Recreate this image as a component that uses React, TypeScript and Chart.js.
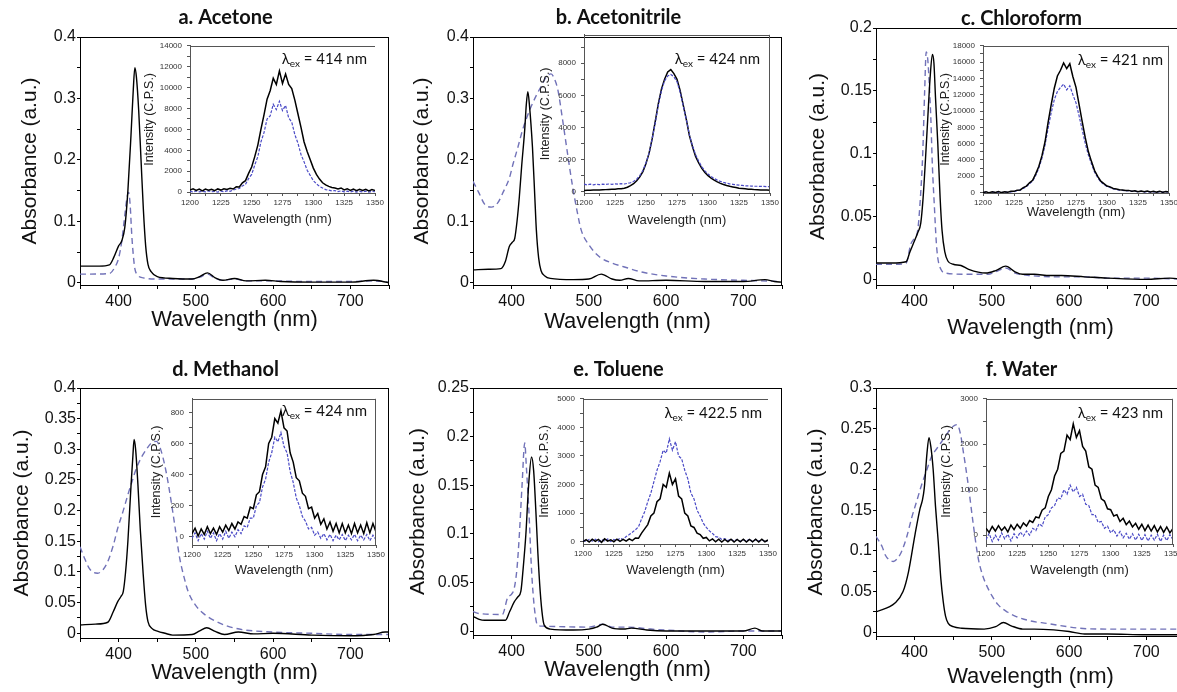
import React, { useEffect, useRef } from 'react';
import { Chart, registerables } from 'chart.js';

Chart.register(...registerables);

// ---------------- data ----------------
const panelTitles = ['a. Acetone', 'b. Acetonitrile', 'c. Chloroform', 'd. Methanol', 'e. Toluene', 'f. Water'];
const excitationNm = ['414', '424', '421', '424', '422.5', '423'];

const mainXTicks = [400, 500, 600, 700];
const aYTicks = [0, 0.1, 0.2, 0.3, 0.4];
const bYTicks = [0, 0.1, 0.2, 0.3, 0.4];
const cYTicks = [0, 0.05, 0.1, 0.15, 0.2];
const dYTicks = [0, 0.05, 0.1, 0.15, 0.2, 0.25, 0.3, 0.35, 0.4];
const eYTicks = [0, 0.05, 0.1, 0.15, 0.2, 0.25];
const fYTicks = [0, 0.05, 0.1, 0.15, 0.2, 0.25, 0.3];

const insetXTicks = [1200, 1225, 1250, 1275, 1300, 1325, 1350];
const aInYTicks = [0, 2000, 4000, 6000, 8000, 10000, 12000, 14000];
const bInYTicks = [0, 2000, 4000, 6000, 8000];
const cInYTicks = [0, 2000, 4000, 6000, 8000, 10000, 12000, 14000, 16000, 18000];
const dInYTicks = [0, 200, 400, 600, 800];
const eInYTicks = [0, 1000, 2000, 3000, 4000, 5000];
const fInYTicks = [0, 1000, 2000, 3000];

// absorbance spectra (solid = black, dash = blue dashed)
const aSolidWl = [350, 375, 388, 394, 400, 404, 408, 412, 416, 419, 421, 423, 426, 429, 432, 435, 438, 442, 450, 470, 495, 505, 515, 525, 535, 550, 565, 590, 610, 650, 700, 730, 750];
const aSolidAbs = [0.027, 0.027, 0.029, 0.042, 0.060, 0.068, 0.090, 0.150, 0.240, 0.315, 0.350, 0.335, 0.280, 0.200, 0.120, 0.060, 0.030, 0.018, 0.010, 0.007, 0.006, 0.010, 0.016, 0.008, 0.004, 0.007, 0.003, 0.004, 0.002, 0.001, 0.001, 0.004, 0.000];
const aDashWl = [350, 388, 395, 400, 404, 408, 411, 413, 415, 417, 419, 421, 425, 432, 450, 495, 505, 515, 525, 535, 550, 565, 590, 650, 700, 730, 750];
const aDashAbs = [0.014, 0.015, 0.025, 0.040, 0.067, 0.110, 0.140, 0.147, 0.125, 0.078, 0.045, 0.023, 0.012, 0.008, 0.006, 0.006, 0.009, 0.014, 0.007, 0.004, 0.006, 0.003, 0.003, 0.002, 0.002, 0.003, 0.001];

const bSolidWl = [350, 370, 386, 392, 397, 401, 404, 407, 410, 413, 417, 419, 421, 423, 427, 430, 432, 435, 438, 443, 450, 480, 500, 516, 530, 540, 551, 565, 600, 650, 700, 728, 740, 750];
const bSolidAbs = [0.021, 0.022, 0.023, 0.035, 0.059, 0.066, 0.072, 0.100, 0.140, 0.190, 0.250, 0.290, 0.311, 0.290, 0.220, 0.140, 0.086, 0.040, 0.020, 0.011, 0.007, 0.005, 0.006, 0.014, 0.006, 0.004, 0.007, 0.003, 0.004, 0.002, 0.002, 0.005, 0.002, 0.001];
const bDashWl = [350, 357, 365, 374, 382, 390, 397, 402, 408, 414, 420, 425, 432, 438, 445, 451, 456, 460, 466, 473, 479, 485, 490, 501, 514, 530, 545, 570, 600, 650, 700, 750];
const bDashAbs = [0.165, 0.148, 0.128, 0.123, 0.130, 0.150, 0.170, 0.194, 0.220, 0.248, 0.270, 0.286, 0.305, 0.319, 0.335, 0.340, 0.330, 0.313, 0.265, 0.205, 0.156, 0.115, 0.086, 0.060, 0.042, 0.032, 0.026, 0.017, 0.011, 0.006, 0.004, 0.002];

const cSolidWl = [350, 370, 389, 394, 398, 404, 408, 411, 414, 417, 420, 423, 425, 427, 430, 433, 435.5, 439, 443, 450, 460, 470, 492, 505, 518, 530, 540, 555, 575, 590, 620, 650, 700, 730, 750];
const cSolidAbs = [0.013, 0.013, 0.014, 0.022, 0.028, 0.037, 0.045, 0.065, 0.095, 0.128, 0.160, 0.179, 0.172, 0.145, 0.108, 0.065, 0.039, 0.022, 0.0146, 0.012, 0.011, 0.008, 0.005, 0.007, 0.0105, 0.006, 0.004, 0.004, 0.003, 0.003, 0.002, 0.001, 0.000, 0.001, 0.000];
const cDashWl = [350, 375, 389, 395, 400, 404, 408, 410.5, 413, 415, 417, 419, 421, 423, 425.5, 428, 430, 434, 440, 470, 495, 505, 518, 530, 550, 580, 620, 650, 700, 750];
const cDashAbs = [0.012, 0.012, 0.013, 0.028, 0.033, 0.039, 0.070, 0.100, 0.150, 0.181, 0.175, 0.155, 0.128, 0.090, 0.059, 0.030, 0.017, 0.008, 0.005, 0.004, 0.004, 0.006, 0.009, 0.005, 0.003, 0.002, 0.002, 0.001, 0.001, 0.000];

const dSolidWl = [350, 370, 386, 393, 399, 403, 406, 409, 412, 416, 418.5, 420, 422, 425, 428, 431.6, 435, 438, 443, 451, 460, 470, 495, 505, 514, 525, 537, 555, 575, 600, 650, 700, 730, 745, 750];
const dSolidAbs = [0.0136, 0.015, 0.018, 0.035, 0.052, 0.060, 0.068, 0.100, 0.150, 0.240, 0.290, 0.316, 0.300, 0.242, 0.170, 0.100, 0.045, 0.019, 0.008, 0.003, 0.000, -0.003, -0.002, 0.004, 0.009, 0.003, -0.002, 0.002, -0.001, 0.000, -0.003, -0.004, -0.002, 0.002, 0.002];
const dDashWl = [350, 356, 362, 368, 373, 380, 386, 393, 399, 406, 412, 418, 423, 430, 436, 442, 449, 453, 457.5, 462, 466, 472.6, 479, 485, 490, 500, 510, 525, 540, 560, 600, 650, 700, 750];
const dDashAbs = [0.141, 0.122, 0.106, 0.099, 0.098, 0.104, 0.117, 0.143, 0.172, 0.200, 0.226, 0.250, 0.269, 0.288, 0.300, 0.310, 0.313, 0.305, 0.286, 0.260, 0.231, 0.177, 0.123, 0.090, 0.068, 0.045, 0.032, 0.020, 0.012, 0.006, 0.002, 0.000, -0.002, -0.002];

const eSolidWl = [350, 358, 365, 392, 397.5, 403.4, 408, 412, 415, 418.4, 422, 425.8, 428.5, 431.4, 434, 437, 440, 442.2, 450, 480, 500, 510, 518, 530, 545, 555, 575, 600, 650, 700, 715, 725, 750];
const eSolidAbs = [0.015, 0.012, 0.011, 0.011, 0.020, 0.030, 0.035, 0.041, 0.065, 0.099, 0.150, 0.179, 0.165, 0.123, 0.080, 0.0405, 0.015, 0.006, 0.002, 0.001, 0.002, 0.004, 0.007, 0.003, 0.002, 0.003, 0.001, 0.000, 0.000, 0.000, 0.003, 0.000, 0.000];
const eDashWl = [350, 358, 388, 394.7, 400, 403.4, 407, 410, 413.5, 417, 419, 422.8, 425, 427, 430, 433.5, 440, 500, 518, 530, 550, 580, 600, 650, 700, 750];
const eDashAbs = [0.020, 0.018, 0.017, 0.034, 0.038, 0.044, 0.065, 0.099, 0.150, 0.1935, 0.170, 0.116, 0.075, 0.047, 0.020, 0.006, 0.005, 0.004, 0.007, 0.004, 0.004, 0.002, 0.001, -0.001, 0.000, 0.000];

const fSolidWl = [350, 374.6, 385, 392, 400.5, 407, 410, 412.5, 416, 418.6, 421, 424, 427, 430.6, 434, 437, 440, 443.5, 450, 461, 490, 505, 515, 525, 540, 555, 580, 600, 620, 650, 700, 750];
const fSolidAbs = [0.025, 0.036, 0.050, 0.074, 0.120, 0.152, 0.162, 0.177, 0.220, 0.239, 0.228, 0.200, 0.155, 0.111, 0.065, 0.038, 0.020, 0.011, 0.007, 0.005, 0.004, 0.007, 0.012, 0.008, 0.004, 0.004, 0.003, 0.001, -0.002, -0.002, -0.003, -0.003];
const fDashWl = [350, 358, 362, 367, 372.4, 378, 383, 390, 396, 403, 409, 416, 422, 429, 435, 442, 450, 455, 459, 463, 469.4, 476, 482.3, 488, 493, 500, 508, 520, 530, 550, 571, 614, 650, 700, 750];
const fDashAbs = [0.118, 0.105, 0.095, 0.089, 0.087, 0.091, 0.099, 0.118, 0.140, 0.162, 0.181, 0.200, 0.216, 0.226, 0.234, 0.244, 0.253, 0.255, 0.245, 0.222, 0.181, 0.132, 0.091, 0.070, 0.058, 0.045, 0.034, 0.025, 0.020, 0.014, 0.011, 0.005, 0.004, 0.004, 0.004];

// NIR emission (insets), common wavelength grid
const insetWl = [1200, 1202.5, 1205, 1207.5, 1210, 1212.5, 1215, 1217.5, 1220, 1222.5, 1225, 1227.5, 1230, 1232.5, 1235, 1237.5, 1240, 1242.5, 1245, 1247.5, 1250, 1252.5, 1255, 1257.5, 1260, 1262.5, 1265, 1267.5, 1270, 1272.5, 1275, 1277.5, 1280, 1282.5, 1285, 1287.5, 1290, 1292.5, 1295, 1297.5, 1300, 1302.5, 1305, 1307.5, 1310, 1312.5, 1315, 1317.5, 1320, 1322.5, 1325, 1327.5, 1330, 1332.5, 1335, 1337.5, 1340, 1342.5, 1345, 1347.5, 1350];

const aInBlack = [200, 320, 160, 290, 120, 300, 180, 280, 150, 310, 200, 330, 250, 380, 300, 520, 500, 900, 1100, 1800, 2400, 3400, 4500, 6000, 7400, 8900, 9700, 10900, 10300, 11600, 10400, 11300, 10300, 9900, 8800, 7500, 6200, 4800, 3900, 3100, 2300, 1700, 1250, 900, 700, 550, 450, 400, 300, 400, 220, 330, 170, 300, 140, 280, 160, 270, 120, 240, 150];
const aInBlue = [80, 10, 110, 30, 90, 20, 120, 40, 70, 10, 100, 50, 130, 80, 200, 300, 350, 600, 750, 1300, 1700, 2600, 3400, 4800, 5700, 7000, 7300, 8400, 7900, 8700, 7800, 8300, 7100, 6700, 5500, 4700, 3600, 2900, 2100, 1600, 1100, 800, 550, 400, 250, 200, 120, 150, 60, 120, 30, 100, 20, 90, 10, 80, 30, 100, 10, 70, 40];

const bInBlack = [80, 90, 90, 100, 110, 110, 120, 130, 140, 150, 160, 180, 190, 220, 280, 380, 500, 680, 920, 1250, 1750, 2400, 3300, 4400, 5500, 6400, 7000, 7450, 7600, 7350, 7000, 6300, 5400, 4500, 3500, 2800, 2200, 1800, 1450, 1200, 1000, 850, 720, 610, 520, 450, 390, 340, 300, 260, 220, 200, 180, 160, 150, 130, 120, 110, 100, 100, 90];
const bInBlue = [480, 420, 470, 430, 460, 440, 470, 450, 480, 460, 490, 470, 500, 480, 520, 560, 640, 780, 1000, 1320, 1800, 2400, 3300, 4300, 5400, 6300, 6900, 7200, 7300, 7150, 6850, 6200, 5350, 4500, 3550, 2850, 2300, 1900, 1550, 1300, 1100, 950, 820, 720, 640, 580, 530, 490, 460, 430, 410, 390, 370, 360, 350, 340, 340, 330, 330, 320, 320];

const cInBlack = [0, 110, -30, 90, 20, 120, 0, 100, 50, 150, 150, 300, 330, 600, 800, 1200, 1500, 2300, 3200, 4500, 6200, 8600, 10800, 12800, 14300, 15000, 15900, 15200, 15800, 14200, 12900, 10800, 8700, 6700, 5000, 3800, 2700, 2000, 1400, 1100, 800, 700, 500, 450, 350, 330, 250, 270, 180, 220, 120, 200, 100, 180, 80, 160, 60, 150, 50, 140, 80];
const cInBlue = [0, 60, -20, 50, 10, 80, 0, 60, 20, 90, 120, 250, 300, 520, 720, 1100, 1400, 2100, 3000, 4200, 5800, 7900, 9800, 11400, 12400, 12900, 13300, 12600, 13100, 12000, 11000, 9400, 7700, 6000, 4600, 3500, 2500, 1850, 1300, 1000, 750, 620, 450, 400, 300, 280, 200, 230, 140, 180, 90, 160, 70, 140, 50, 120, 30, 110, 20, 100, 40];

const dInBlack = [20, 55, 5, 50, 15, 65, 20, 55, 15, 65, 30, 75, 40, 85, 50, 95, 80, 130, 120, 190, 180, 270, 290, 400, 450, 600, 640, 760, 730, 810, 700, 680, 540, 480, 380, 360, 280, 260, 180, 190, 120, 150, 80, 115, 50, 95, 35, 85, 25, 85, 25, 75, 20, 85, 25, 75, 20, 90, 25, 85, 30];
const dInBlue = [-10, 25, -25, 20, -15, 35, -10, 25, -25, 20, -15, 35, -10, 30, 0, 45, 20, 70, 60, 120, 120, 200, 220, 320, 370, 480, 540, 640, 610, 670, 580, 540, 420, 350, 250, 200, 130, 100, 50, 60, 10, 30, -10, 20, -20, 15, -25, 10, -20, 15, -25, 10, -20, 15, -25, 10, -20, 15, -25, 10, -20];

const eInBlack = [0, 70, -10, 90, 10, 80, -20, 100, 20, 70, 0, 90, 10, 80, 20, 100, 40, 130, 120, 300, 450, 600, 900, 1000, 1400, 1500, 2000, 1900, 2400, 2000, 2200, 1600, 1500, 1000, 900, 550, 500, 300, 250, 120, 150, 30, 100, 0, 90, -10, 80, 0, 90, -10, 80, 0, 90, -10, 80, 0, 90, -10, 90, 0, 60];
const eInBlue = [50, 0, 80, 20, 90, 0, 70, 30, 100, 10, 80, 40, 120, 80, 180, 250, 330, 420, 520, 800, 1050, 1400, 1700, 2100, 2500, 2800, 3200, 3100, 3600, 3200, 3500, 3000, 2900, 2500, 2200, 1700, 1500, 1100, 900, 650, 500, 380, 290, 180, 160, 80, 110, 40, 90, 20, 80, 10, 70, 20, 90, 0, 80, 20, 70, 10, 50];

const fInBlack = [150, 60, 190, 90, 210, 100, 180, 70, 220, 120, 240, 150, 270, 200, 320, 280, 400, 380, 550, 600, 850, 1000, 1300, 1450, 1800, 1850, 2200, 2100, 2450, 2150, 2300, 1950, 1850, 1500, 1450, 1100, 1050, 800, 750, 580, 560, 420, 450, 300, 370, 230, 310, 180, 260, 130, 240, 100, 220, 90, 210, 70, 190, 60, 180, 50, 150];
const fInBlue = [-100, 40, -140, 0, -110, 50, -80, 20, -130, 30, -60, 70, -20, 90, 0, 150, 100, 250, 200, 400, 450, 600, 650, 820, 800, 1000, 900, 1100, 950, 1050, 850, 900, 680, 650, 450, 450, 280, 300, 150, 200, 50, 120, -20, 80, -60, 40, -90, 30, -110, 20, -120, 10, -130, 0, -110, 20, -140, 0, -120, 10, -100];

// ---------------- panel assembly ----------------
const panels = [
  { solidWl: aSolidWl, solidAbs: aSolidAbs, dashWl: aDashWl, dashAbs: aDashAbs, yTicks: aYTicks, inBlack: aInBlack, inBlue: aInBlue, inYTicks: aInYTicks },
  { solidWl: bSolidWl, solidAbs: bSolidAbs, dashWl: bDashWl, dashAbs: bDashAbs, yTicks: bYTicks, inBlack: bInBlack, inBlue: bInBlue, inYTicks: bInYTicks },
  { solidWl: cSolidWl, solidAbs: cSolidAbs, dashWl: cDashWl, dashAbs: cDashAbs, yTicks: cYTicks, inBlack: cInBlack, inBlue: cInBlue, inYTicks: cInYTicks },
  { solidWl: dSolidWl, solidAbs: dSolidAbs, dashWl: dDashWl, dashAbs: dDashAbs, yTicks: dYTicks, inBlack: dInBlack, inBlue: dInBlue, inYTicks: dInYTicks },
  { solidWl: eSolidWl, solidAbs: eSolidAbs, dashWl: eDashWl, dashAbs: eDashAbs, yTicks: eYTicks, inBlack: eInBlack, inBlue: eInBlue, inYTicks: eInYTicks },
  { solidWl: fSolidWl, solidAbs: fSolidAbs, dashWl: fDashWl, dashAbs: fDashAbs, yTicks: fYTicks, inBlack: fInBlack, inBlue: fInBlue, inYTicks: fInYTicks },
];

// ---------------- layout (pixels / ranges) ----------------
type Layout = {
  plot: number[]; yRange: number[]; yTitleOff: number; xTitleOff: number; titleY: number;
  inset: number[]; inYRange: number[]; inYTitleOff: number; inXTitleOff: number;
  lam: number[]; inRight: boolean; blueOnTop: boolean;
};
const layouts: Layout[] = [
  { plot: [80, 37, 389, 285], yRange: [-0.0037, 0.4], yTitleOff: 50, xTitleOff: 35, titleY: 18,
    inset: [190, 44, 375, 193], inYRange: [-80, 14000], inYTitleOff: 40, inXTitleOff: 26.7, lam: [8, 13], inRight: false, blueOnTop: true },
  { plot: [473, 37, 782, 285], yRange: [-0.0037, 0.4], yTitleOff: 50.5, xTitleOff: 36.5, titleY: 18,
    inset: [584, 33, 770, 193], inYRange: [-80, 9766], inYTitleOff: 38.3, inXTitleOff: 27.5, lam: [10, 24], inRight: true, blueOnTop: false },
  { plot: [876, 28, 1185, 285], yRange: [-0.0045, 0.2], yTitleOff: 58, xTitleOff: 43, titleY: 18.3,
    inset: [983, 44, 1169, 193], inYRange: [-50, 18000], inYTitleOff: 37.6, inXTitleOff: 19.5, lam: [6, 14], inRight: true, blueOnTop: true },
  { plot: [80, 388, 389, 638], yRange: [-0.0077, 0.4], yTitleOff: 58, xTitleOff: 35, titleY: 370,
    inset: [192, 397, 376, 545], inYRange: [-53, 887], inYTitleOff: 35, inXTitleOff: 25, lam: [9, 12], inRight: true, blueOnTop: true },
  { plot: [473, 388, 782, 635], yRange: [-0.0041, 0.25], yTitleOff: 55, xTitleOff: 35, titleY: 370,
    inset: [583, 397, 768, 544], inYRange: [-79, 5000], inYTitleOff: 38.3, inXTitleOff: 26, lam: [6, 14], inRight: false, blueOnTop: true },
  { plot: [876, 388, 1185, 636], yRange: [-0.0045, 0.3], yTitleOff: 60, xTitleOff: 40.7, titleY: 369.3,
    inset: [986, 397, 1173, 544], inYRange: [-195, 3000], inYTitleOff: 39.3, inXTitleOff: 26, lam: [10, 14], inRight: true, blueOnTop: true },
];

const MAIN = { yw: 75, padTop: 30, padRight: 6, xh: 56 };
const INSET = { yw: 50, padTop: 8, padRight: 14, xh: 36 };

const SANS = '"Liberation Sans", Arial, Helvetica, sans-serif';
const CAL = 'Lato, "Open Sans", sans-serif';

function mainBox(l: Layout) {
  const [L, T, R, B] = l.plot;
  return { left: L - MAIN.yw, top: T - MAIN.padTop, width: R - L + MAIN.yw + MAIN.padRight, height: B - T + MAIN.padTop + MAIN.xh };
}
function insetBox(l: Layout) {
  const [L, T, R, B] = l.inset;
  return { left: L - INSET.yw, top: T - INSET.padTop, width: R - L + INSET.yw + INSET.padRight, height: B - T + INSET.padTop + INSET.xh };
}

function tickSet(majors: number[], min: number, max: number) {
  const step = majors[1] - majors[0];
  const eps = Math.abs(step) * 1e-6;
  const vals: number[] = [];
  for (let k = -1; k < majors.length; k++) {
    const base = k < 0 ? majors[0] - step : majors[k];
    if (k >= 0) vals.push(base);
    vals.push(base + step / 2);
  }
  return vals.filter(v => v >= min - eps && v <= max + eps).sort((a, b) => a - b).map(v => ({ value: v }));
}
function isMajor(majors: number[], v: number) {
  const step = majors[1] - majors[0];
  return majors.some(m => Math.abs(m - v) < Math.abs(step) * 1e-6);
}
const fmt = (v: number) => String(parseFloat(v.toFixed(4)));

function pts(xs: number[], ys: number[]) {
  return xs.map((x, i) => ({ x, y: ys[i] }));
}

function makeMain(canvas: HTMLCanvasElement, idx: number) {
  const p = panels[idx];
  const l = layouts[idx];
  const box = mainBox(l);
  const yTitleFont = 21;
  const xTitleFont = 22;
  const yPadTop = MAIN.yw - l.yTitleOff - yTitleFont / 2;
  const xPadBottom = MAIN.xh - l.xTitleOff - xTitleFont / 2;
  const [xmin, xmax] = [350, 750];
  const [ymin, ymax] = l.yRange;
  const decor = {
    id: 'decorMain' + idx,
    afterDraw(chart: any) {
      const { ctx, chartArea: a } = chart;
      ctx.save();
      ctx.strokeStyle = '#000';
      ctx.lineWidth = 1;
      ctx.beginPath();
      const top = Math.round(a.top) + 0.5;
      const right = Math.round(a.right) - 0.5;
      ctx.moveTo(a.left, top);
      ctx.lineTo(a.right, top);
      ctx.moveTo(right, a.top);
      ctx.lineTo(right, a.bottom);
      ctx.stroke();
      ctx.fillStyle = '#111';
      ctx.font = `bold 20px ${CAL}`;
      ctx.textAlign = 'center';
      ctx.textBaseline = 'middle';
      const cx = (l.plot[0] + l.plot[2]) / 2 - 9 - box.left;
      ctx.fillText(panelTitles[idx], cx, l.titleY - box.top);
      ctx.restore();
    },
  };
  return new Chart(canvas, {
    type: 'line',
    data: {
      datasets: [
        { data: pts(p.solidWl, p.solidAbs), borderColor: '#000', borderWidth: 1.4, pointRadius: 0, fill: false, cubicInterpolationMode: 'monotone' },
        { data: pts(p.dashWl, p.dashAbs), borderColor: '#7172b8', borderWidth: 1.4, borderDash: [6, 4], pointRadius: 0, fill: false, cubicInterpolationMode: 'monotone' },
      ],
    },
    options: {
      responsive: false,
      animation: false,
      events: [],
      layout: { padding: { left: 0, top: MAIN.padTop, right: MAIN.padRight, bottom: 0 } },
      plugins: { legend: { display: false }, tooltip: { enabled: false }, title: { display: false } },
      scales: {
        x: {
          type: 'linear', min: xmin, max: xmax,
          afterFit: (s: any) => { s.height = MAIN.xh; },
          afterBuildTicks: (s: any) => { s.ticks = tickSet(mainXTicks, xmin, xmax); },
          ticks: { autoSkip: false, maxRotation: 0, padding: 3, color: '#111', font: { family: SANS, size: 16 },
            callback: (v: any) => (isMajor(mainXTicks, Number(v)) ? String(v) : '') },
          grid: { drawOnChartArea: false, drawTicks: true, tickLength: 4, color: '#000', lineWidth: 1 },
          border: { display: true, color: '#000', width: 1 },
          title: { display: true, text: 'Wavelength (nm)', color: '#111', font: { family: SANS, size: xTitleFont, lineHeight: 1 }, padding: { top: 0, bottom: xPadBottom } },
        },
        y: {
          type: 'linear', min: ymin, max: ymax,
          afterFit: (s: any) => { s.width = MAIN.yw; },
          afterBuildTicks: (s: any) => { s.ticks = tickSet(p.yTicks, ymin, ymax); },
          ticks: { autoSkip: false, padding: 1, color: '#111', font: { family: SANS, size: 16 },
            callback: (v: any) => (isMajor(p.yTicks, Number(v)) ? fmt(Number(v)) : '') },
          grid: { drawOnChartArea: false, drawTicks: true, tickLength: 3, color: '#000', lineWidth: 1 },
          border: { display: true, color: '#000', width: 1 },
          title: { display: true, text: 'Absorbance (a.u.)', color: '#111', font: { family: SANS, size: yTitleFont, lineHeight: 1 }, padding: { top: yPadTop, bottom: 0 } },
        },
      },
    } as any,
    plugins: [decor],
  });
}

function makeInset(canvas: HTMLCanvasElement, idx: number) {
  const p = panels[idx];
  const l = layouts[idx];
  const yTitleFont = 12.5;
  const xTitleFont = 13;
  const yPadTop = INSET.yw - l.inYTitleOff - yTitleFont / 2;
  const xPadBottom = INSET.xh - l.inXTitleOff - xTitleFont / 2;
  const [xmin, xmax] = [1200, 1350];
  const [ymin, ymax] = l.inYRange;
  const blackDs = { data: pts(insetWl, p.inBlack), borderColor: '#000', borderWidth: 1.5, pointRadius: 0, fill: false, tension: 0 };
  const blueDs = { data: pts(insetWl, p.inBlue), borderColor: '#4a4ac6', borderWidth: 1.2, borderDash: [3, 1.5], pointRadius: 0, fill: false, tension: 0 };
  const datasets = l.blueOnTop ? [blackDs, blueDs] : [blueDs, blackDs];
  const decor = {
    id: 'decorInset' + idx,
    afterDraw(chart: any) {
      const { ctx, chartArea: a } = chart;
      ctx.save();
      ctx.strokeStyle = '#555';
      ctx.lineWidth = 1;
      ctx.beginPath();
      const top = Math.round(a.top) + 0.5;
      const right = Math.round(a.right) - 0.5;
      ctx.moveTo(a.left, top);
      ctx.lineTo(a.right, top);
      if (l.inRight) {
        ctx.moveTo(right, a.top);
        ctx.lineTo(right, a.bottom);
      }
      ctx.stroke();
      // lambda_ex label
      const big = `15px ${CAL}`;
      const small = `10px ${CAL}`;
      const rest = ` = ${excitationNm[idx]} nm`;
      ctx.font = big;
      const w1 = ctx.measureText('λ').width;
      const w3 = ctx.measureText(rest).width;
      ctx.font = small;
      const w2 = ctx.measureText('ex').width;
      const total = w1 + w2 + w3;
      let x = a.right - l.lam[0] - total;
      const base = a.top + l.lam[1] + 5;
      ctx.fillStyle = '#111';
      ctx.textBaseline = 'alphabetic';
      ctx.textAlign = 'left';
      ctx.font = big;
      ctx.fillText('λ', x, base);
      x += w1;
      ctx.font = small;
      ctx.fillText('ex', x, base + 3);
      x += w2;
      ctx.font = big;
      ctx.fillText(rest, x, base);
      ctx.restore();
    },
  };
  return new Chart(canvas, {
    type: 'line',
    data: { datasets },
    options: {
      responsive: false,
      animation: false,
      events: [],
      layout: { padding: { left: 0, top: INSET.padTop, right: INSET.padRight, bottom: 0 } },
      plugins: { legend: { display: false }, tooltip: { enabled: false }, title: { display: false } },
      scales: {
        x: {
          type: 'linear', min: xmin, max: xmax,
          afterFit: (s: any) => { s.height = INSET.xh; },
          afterBuildTicks: (s: any) => { s.ticks = tickSet(insetXTicks, xmin, xmax); },
          ticks: { autoSkip: false, maxRotation: 0, padding: 2, color: '#333', font: { family: SANS, size: 8 },
            callback: (v: any) => (isMajor(insetXTicks, Number(v)) ? String(v) : '') },
          grid: { drawOnChartArea: false, drawTicks: true, tickLength: 3, color: '#555', lineWidth: 1 },
          border: { display: true, color: '#555', width: 1 },
          title: { display: true, text: 'Wavelength (nm)', color: '#222', font: { family: SANS, size: xTitleFont, lineHeight: 1 }, padding: { top: 0, bottom: xPadBottom } },
        },
        y: {
          type: 'linear', min: ymin, max: ymax,
          afterFit: (s: any) => { s.width = INSET.yw; },
          afterBuildTicks: (s: any) => { s.ticks = tickSet(p.inYTicks, ymin, ymax); },
          ticks: { autoSkip: false, padding: 5, color: '#333', font: { family: SANS, size: 8 },
            callback: (v: any) => (isMajor(p.inYTicks, Number(v)) ? String(Math.round(Number(v))) : '') },
          grid: { drawOnChartArea: false, drawTicks: true, tickLength: 3, color: '#555', lineWidth: 1 },
          border: { display: true, color: '#555', width: 1 },
          title: { display: true, text: 'Intensity (C.P.S.)', color: '#222', font: { family: SANS, size: yTitleFont, lineHeight: 1 }, padding: { top: yPadTop, bottom: 0 } },
        },
      },
    } as any,
    plugins: [decor],
  });
}

export default function App() {
  const refs = useRef<(HTMLCanvasElement | null)[]>([]);
  useEffect(() => {
    const charts: Chart[] = [];
    layouts.forEach((_, i) => {
      const m = refs.current[2 * i];
      const n = refs.current[2 * i + 1];
      if (m) charts.push(makeMain(m, i));
      if (n) charts.push(makeInset(n, i));
    });
    return () => charts.forEach(c => c.destroy());
  }, []);

  const canvases: React.ReactNode[] = [];
  layouts.forEach((l, i) => {
    const mb = mainBox(l);
    const ib = insetBox(l);
    canvases.push(
      <canvas key={'m' + i} ref={el => { refs.current[2 * i] = el; }} width={mb.width} height={mb.height}
        style={{ position: 'absolute', left: mb.left, top: mb.top, width: mb.width, height: mb.height }} />
    );
    canvases.push(
      <canvas key={'i' + i} ref={el => { refs.current[2 * i + 1] = el; }} width={ib.width} height={ib.height}
        style={{ position: 'absolute', left: ib.left, top: ib.top, width: ib.width, height: ib.height }} />
    );
  });

  return (
    <div style={{ position: 'fixed', left: 0, top: 0, width: 1177, height: 692, overflow: 'hidden', background: '#fff' }}>
      {canvases}
    </div>
  );
}
